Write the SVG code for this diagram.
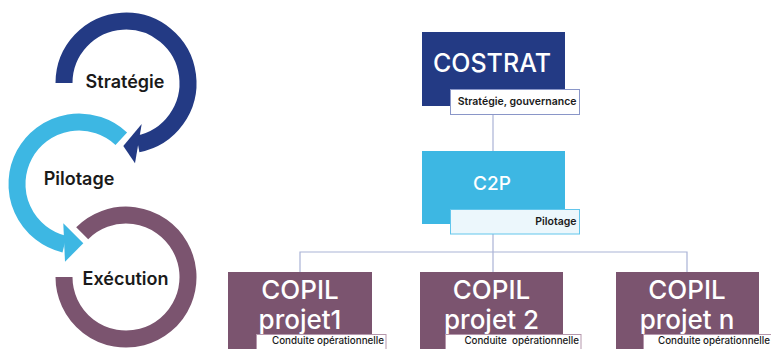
<svg xmlns="http://www.w3.org/2000/svg" width="771" height="349" viewBox="0 0 771 349">
  <style>
    .ring { fill: none; stroke-width: 17; stroke-linecap: butt; }
    .cycle { font-family: Inter, "Open Sans", "Liberation Sans", sans-serif; font-weight: 600; font-size: 18px; fill: #1a1a1a; text-anchor: middle; }
    .title { font-family: Inter, "Open Sans", "Liberation Sans", sans-serif; font-weight: 500; fill: #ffffff; text-anchor: middle; }
    .tag { font-family: Inter, "Open Sans", "Liberation Sans", sans-serif; font-weight: 600; font-size: 10.5px; fill: #1a1a1a; text-anchor: end; }
    .tag-light { font-weight: 500; font-size: 9.8px; }
    .link { fill: none; stroke: #aab3d6; stroke-width: 1.2; }
  </style>

  <!-- cycle: strategy / steering / execution -->
  <g id="cycle-strategie">
    <path class="ring" stroke="#233a84" d="M64,83 A62,62 0 1 1 137.8,143.9"/>
    <polygon fill="#233a84" points="123.3,146 141.7,124 135,163.3"/>
    <text class="cycle" x="125" y="88">Stratégie</text>
  </g>
  <g id="cycle-pilotage">
    <path class="ring" stroke="#3db7e3" d="M121.3,138.7 A62,62 0 1 0 64.5,244.3"/>
    <polygon fill="#3db7e3" points="83.3,243.3 63.3,223.3 65,261.7"/>
    <text class="cycle" x="79" y="185">Pilotage</text>
  </g>
  <g id="cycle-execution">
    <path class="ring" stroke="#7b546f" d="M82.2,233.2 A62,62 0 1 1 64,277"/>
    <text class="cycle" x="125.5" y="285">Exécution</text>
  </g>

  <!-- organisation chart connectors -->
  <g id="connectors">
    <line class="link" x1="493" y1="114" x2="493" y2="151"/>
    <line class="link" x1="493" y1="234" x2="493" y2="252"/>
    <polyline class="link" points="300,272 300,252 687,252 687,272"/>
    <line class="link" x1="493" y1="252" x2="493" y2="272"/>
  </g>

  <g id="costrat">
    <rect x="422" y="32" width="143" height="74" fill="#233a84"/>
    <text class="title" x="492" y="72" font-size="25">COSTRAT</text>
    <rect x="450.5" y="89.5" width="129" height="25" fill="#ffffff" stroke="#8a96c8" stroke-width="1"/>
    <text class="tag" x="576.5" y="105">Stratégie, gouvernance</text>
  </g>

  <g id="c2p">
    <rect x="422" y="151" width="143" height="73" fill="#3db7e3"/>
    <text class="title" x="492" y="190" font-size="19">C2P</text>
    <rect x="450.5" y="209.5" width="129" height="24.5" fill="#ecf7fc" stroke="#62c6ec" stroke-width="1"/>
    <text class="tag" x="576.5" y="224.5">Pilotage</text>
  </g>

  <g id="copil-1">
    <rect x="228" y="272" width="144" height="80" fill="#7b546f"/>
    <text class="title" x="300" y="298.5" font-size="26">COPIL</text>
    <text class="title" x="300" y="329" font-size="26">projet1</text>
    <rect x="256.5" y="334.5" width="129.5" height="20" fill="#ffffff" stroke="#b597ac" stroke-width="1"/>
    <text class="tag tag-light" x="384" y="344">Conduite opérationnelle</text>
  </g>

  <g id="copil-2">
    <rect x="420" y="272" width="143" height="80" fill="#7b546f"/>
    <text class="title" x="491.5" y="298.5" font-size="26">COPIL</text>
    <text class="title" x="491.5" y="329" font-size="26">projet 2</text>
    <rect x="445.5" y="334.5" width="135.5" height="20" fill="#ffffff" stroke="#b597ac" stroke-width="1"/>
    <text class="tag tag-light" x="579" y="344" xml:space="preserve">Conduite  opérationnelle</text>
  </g>

  <g id="copil-n">
    <rect x="616" y="272" width="143" height="80" fill="#7b546f"/>
    <text class="title" x="687" y="298.5" font-size="26">COPIL</text>
    <text class="title" x="687" y="329" font-size="26">projet n</text>
    <rect x="643.5" y="334.5" width="135" height="20" fill="#ffffff" stroke="#b597ac" stroke-width="1"/>
    <text class="tag tag-light" x="770" y="344">Conduite opérationnelle</text>
  </g>
</svg>
